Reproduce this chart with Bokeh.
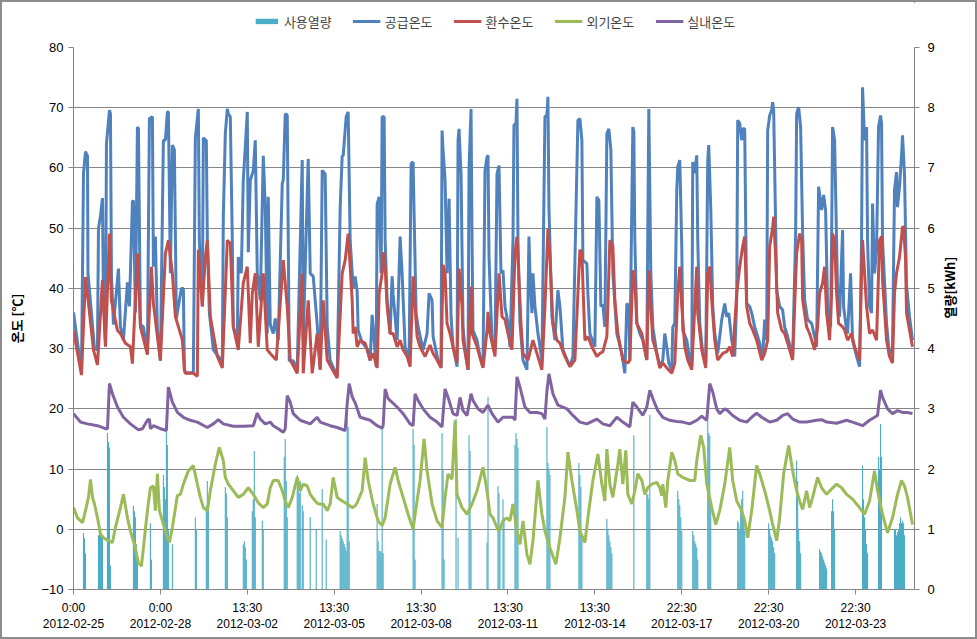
import math
from bokeh.plotting import figure
from bokeh.models import Range1d, LinearAxis, FixedTicker, Legend, LegendItem
from bokeh.layouts import column
from bokeh.embed import file_html
from bokeh.resources import INLINE

# x = sample index (label every 87 samples)
tick_idx = [0, 87, 174, 261, 348, 435, 522, 609, 696, 783]
tick_labels = ["0:00\n2012-02-25", "0:00\n2012-02-28", "13:30\n2012-03-02", "13:30\n2012-03-05",
               "13:30\n2012-03-08", "13:30\n2012-03-11", "13:30\n2012-03-14", "22:30\n2012-03-17",
               "22:30\n2012-03-20", "22:30\n2012-03-23"]

series_names = ["사용열량", "공급온도", "환수온도", "외기온도", "실내온도"]

# 공급온도 (supply temperature)
supply_idx = [0, 8, 10, 12, 14, 14.5, 16, 21, 24, 25, 27, 29, 30, 32, 33, 36, 37, 38, 40, 45, 47, 50, 54, 56, 59, 60, 62, 64, 65, 67, 70, 74, 76, 79, 80, 82, 84, 87, 90, 92, 94, 95, 97, 99, 101, 103, 108, 110, 111, 112, 120, 122, 125, 126, 129, 130, 133, 134, 136, 140, 145, 149, 150, 152, 154, 155, 157, 159, 160, 164, 165, 168, 170, 172, 174, 175, 177, 179, 180, 182, 184, 187, 190, 192, 194, 195, 197, 200, 202, 205, 209, 210, 212, 214, 216, 220, 224, 229, 230, 235, 237, 240, 244, 247, 249, 252, 254, 257, 264, 267, 269, 270, 273, 275, 277, 280,
              282, 284, 285, 289, 294, 297, 299, 300, 303, 304, 306, 308, 309, 311, 312, 314, 317, 319, 320, 324, 327, 329, 332, 336, 338, 340, 341, 343, 345, 350, 354, 356, 359, 360, 365, 368, 369, 370, 372, 374, 376, 378, 380, 384, 385, 386, 388, 390, 392, 395, 396, 398, 399, 400, 404, 407, 410, 412, 414, 415, 416, 419, 422, 424, 426, 428, 430, 432, 435, 437, 440, 441, 443, 444, 445, 447, 450, 454, 456, 457, 459, 460, 462, 465, 469, 472, 474, 475, 476, 479, 482, 485, 487, 490, 497, 500, 505, 507, 509, 510, 514, 515, 517, 522, 524, 526, 528, 530, 532, 534, 536, 538, 540, 544, 549, 552, 554, 556, 557, 560,
              561, 562, 564, 567, 570, 574, 575, 576, 578, 580, 584, 587, 590, 592, 594, 596, 599, 600, 602, 604, 605, 607, 609, 610, 614, 617, 619, 620, 622, 624, 625, 627, 630, 633, 635, 636, 638, 640, 642, 645, 649, 652, 654, 656, 659, 662, 664, 665, 667, 669, 670, 672, 673, 674, 677, 679, 682, 687, 690, 692, 694, 695, 697, 699, 700, 701, 703, 704, 707, 710, 712, 715, 720, 723, 724, 726, 728, 730, 732, 735, 739, 742, 744, 746, 749, 751, 753, 755, 758, 759, 760, 762, 764, 765, 767, 770, 771, 774, 775, 778, 780, 784, 787, 789, 790, 792, 794, 795, 797, 799, 800, 802, 804, 806, 808, 809, 810, 814, 817, 820, 822, 824, 825, 827, 829, 830, 832, 834, 837, 840]
supply_temp = [36, 26, 59, 62.7, 62, 42.5, 39.7, 30, 29.8, 50, 52, 55, 38, 31, 64, 69.6, 69, 42, 34, 43.3, 33.6, 31.4, 41, 37, 54.4, 54.6, 36, 66.8, 66.5, 34, 33.6, 29.2, 68.2, 68.5, 43.6, 48.6, 33, 28, 64.6, 64.6, 69.3, 69.3, 42.5, 63.8, 63, 35, 40, 40, 26.5, 26, 26, 65, 69.8, 48, 37, 65, 64.5, 48, 36, 29.8, 28.7, 28, 52, 65.7, 69.8, 69, 68.5, 48, 33.6, 31.4, 45.2, 42.5, 58, 63.5, 69.3, 46, 58, 59, 59.6, 64.6, 42.5, 38, 62, 53.5, 32.5, 55.2, 34, 32.5, 35, 31.4, 57.4, 58, 69, 68.8, 28, 28, 26.5, 61.3, 31.4, 61.5, 42.5, 42, 34, 26.5, 59.6, 59, 33.6, 28, 25.4, 53.5, 62, 62, 68.5, 69.3, 48, 40,
               42, 39.5, 33, 31, 30, 28, 35.6, 33.6, 27, 54, 55.2, 42.5, 68.5, 68.5, 48, 38, 32.5, 42, 39, 31.4, 48.6, 42.5, 30.3, 28, 60.7, 61, 52.4, 35.9, 33.6, 29.8, 32.5, 39.2, 38, 32, 28, 27, 66.2, 63, 58, 42.5, 54.9, 35.3, 30.3, 27, 64.6, 66.5, 59, 33.6, 29.8, 26.5, 60, 69.8, 48, 33, 31.4, 28.7, 27, 59.6, 61.8, 62.1, 45.2, 31.4, 29.8, 59, 60.4, 42.5, 43, 37, 34.2, 30.3, 48, 67.1, 67.4, 71.5, 48, 34.2, 28.1, 26.5, 48.6, 42.5, 35.9, 42.5, 37, 32.5, 28.1, 68.5, 68.8, 71.8, 53.5, 35.3, 31.4, 39.7, 37, 29.8, 27, 28.7, 67.9, 68.2, 64.6, 44.7, 44.1, 39.2, 32.5, 30.3, 55.2, 54.6, 37, 37.3, 33.6, 65.7, 66.5, 63, 42.5, 32.5, 29.2, 25.9, 37.5, 37, 28, 66.8,
               66, 48, 34.2, 32.5, 31.4, 28.1, 50.2, 69.8, 42.5, 33.6, 29.2, 27, 28.1, 32.5, 30.3, 27.6, 26.5, 33.6, 34.2, 56.4, 60.2, 61.3, 46.9, 33, 31.4, 28.1, 27, 61, 59.1, 62.1, 48, 34.2, 29.2, 27.6, 61.3, 63.8, 53.5, 37, 32.5, 29.2, 34.8, 37.5, 35.3, 35.9, 31.4, 28.7, 38.1, 67.9, 67.4, 64.6, 66.5, 66.5, 50.8, 37.5, 37, 35.9, 33.6, 30.9, 28.7, 34.8, 31.4, 66.2, 68.7, 69.6, 70.9, 69.6, 50.2, 39.7, 37, 36.4, 33.6, 32, 28.7, 49.1, 69, 70.1, 66.8, 49.1, 38.1, 34.8, 34.2, 32, 30.3, 56.9, 53, 55.5, 53, 37, 33.6, 48, 66.8, 64.6, 48, 39.2, 35.3, 49.7, 37, 33.1, 32.5, 42.5, 31.4, 28.7, 27, 48, 73.4, 64.6, 66.8, 48, 37, 35.9, 54.1, 42.5, 46.4, 66.8, 68.7, 67.4, 48, 34.2, 28.7, 30.3, 56.4, 59.3, 53.5, 56.9, 62, 65.4, 58.9, 40.6, 35.3, 31.4]

# 환수온도 (return temperature)
return_idx = [0, 8, 12, 15, 20, 24, 29, 32, 36, 38, 44, 47, 52, 57, 59, 64, 67, 74, 78, 80, 84, 87, 92, 95, 99, 102, 109, 111, 112, 120, 124, 125, 129, 132, 134, 137, 144, 149, 154, 157, 160, 165, 170, 174, 177, 179, 182, 185, 190, 194, 197, 203, 210, 214, 217, 224, 229, 230, 235, 239, 244, 247, 250, 254, 264, 269, 272, 275, 279, 280,
              282, 284, 287, 292, 297, 300, 304, 306, 309, 310, 312, 314, 317, 320, 324, 327, 330, 334, 337, 340, 342, 344, 347, 352, 357, 360, 364, 368, 370, 372, 374, 377, 380, 384, 386, 389, 390, 395, 398, 399, 404, 409, 410, 414, 415, 417, 422, 426, 429, 432, 435, 439, 442, 444, 445, 448, 450, 455, 460, 464, 469, 472, 475, 477, 480, 484, 487, 492, 497, 502, 507, 509, 512, 515, 519, 524, 527, 530, 534, 537, 540, 542, 545, 550, 555,
              557, 560, 562, 564, 569, 572, 574, 576, 578, 580, 584, 587, 590, 594, 599, 602, 605, 607, 609, 612, 615, 619, 622, 624, 625, 629, 633, 635, 637, 639, 642, 645, 650, 654, 657, 660, 664, 667, 670, 672, 674, 677, 680, 684, 689, 692, 695, 697, 700, 701, 703, 705, 709, 712, 715, 720, 724, 727, 729, 730, 734, 737, 742, 745, 747, 750, 752, 754, 757, 759, 760, 762, 764, 766, 770, 772, 775, 779, 782, 787, 789, 790, 792, 794, 797, 800, 804, 807, 809, 810, 814, 817, 820, 822, 824, 827, 830, 831, 833, 834, 837, 840]
return_temp = [33, 25.6, 41.9, 37.5, 29.8, 27.3, 41.4, 30.3, 49.1, 38, 33, 32.5, 30.9, 30.3, 27.5, 45.8, 33.6, 29, 43.6, 37.5, 32, 28, 45.8, 48, 42.5, 35.3, 31.4, 26.5, 25.9, 25.9, 25.4, 46.4, 37, 45.2, 48, 35.3, 28.7, 26.8, 48, 47.5, 33.6, 29.8, 40.9, 43.6, 30.9, 39.2, 42.5, 30.3, 42.5, 29.8, 29.2, 28.1, 44.7, 37, 28.1, 25.9, 42.5, 25.9, 38, 25.9, 32.5, 26.5, 38, 28.1, 25.1, 42.5, 44.7, 49.1, 38, 32.5,
               33.6, 30.3, 31.4, 30.9, 28.1, 29.2, 26.8, 39.2, 42.5, 46, 43.6, 37, 32.5, 32.5, 30.3, 31.4, 29.8, 28.7, 27, 42, 37, 32, 30.3, 28.7, 30.6, 29.2, 28.1, 26.8, 43.9, 42.5, 34.2, 32.5, 30.3, 27.6, 43.3, 37, 31.4, 26.5, 40.3, 32.5, 30.3, 27.3, 26.8, 33, 36.1, 32.5, 28.7, 42.5, 35.3, 34.8, 32.5, 29.8, 45.8, 48.6, 45.2, 34.2, 29.2, 28.1, 31.4, 29.2, 26.5, 37, 49.9, 45.2, 34.2, 31.4, 30.9, 28.7, 27, 28.1, 46.4, 45.8, 31.4, 32, 30.3, 28.7, 29.2, 29.5, 32, 48, 47, 38, 32.5, 28.1, 27.6,
               28.1, 43, 41.4, 34.2, 32.5, 29.8, 28.1, 43, 37, 31.4, 29.2, 26.8, 27.6, 26.8, 25.9, 27.6, 39.2, 43.6, 37, 30.3, 28.1, 26.5, 37, 43.6, 35.9, 29.8, 26.8, 42.5, 43.6, 38.1, 31.4, 28.1, 29.2, 29.5, 30.3, 28.7, 39.2, 43.6, 47, 48.6, 37, 34.2, 33.1, 31.4, 28.1, 29.2, 31.4, 46.9, 50.2, 51.9, 45.2, 35.9, 33.1, 32.5, 30.9, 28.1, 45.8, 49.1, 48, 38.1, 33.6, 32.5, 29.8, 33.6, 39.2, 40.9, 43.6, 35.9, 31.4, 39.2, 49.1, 48, 39.2, 34.2, 33.6, 33.1, 31.4, 32.5, 30.3, 28.1, 42.5, 48, 42.5, 37, 32.5, 33.1, 31.4, 48, 48.6, 41.4, 31.4, 28.7, 27.6, 39.2, 42.5, 45.2, 50.2, 50.2, 45.2, 35.9, 33.1, 30.3]

# 외기온도 (outdoor temperature)
outdoor_idx = [0, 4, 9, 12, 15, 17, 19, 21, 24, 27, 30, 35, 39, 42, 47, 50, 54, 57, 62, 65, 68, 70, 74, 77, 80, 82, 84, 86, 89, 94, 96, 99, 104, 107, 110, 115, 120, 124, 127, 130, 134, 137, 142, 146, 150, 152, 155, 160, 165, 170, 175, 180, 185, 190, 194, 197, 200, 205, 209, 212, 215, 219, 224, 227, 230, 234, 237, 242, 245, 250, 254, 257, 260, 264, 269, 274, 279, 282,
               284, 289, 292, 295, 300, 305, 309, 312, 317, 322, 325, 330, 335, 340, 342, 347, 351, 354, 359, 364, 369, 372, 375, 379, 382, 384, 389, 394, 399, 404, 410, 414, 417, 420, 424, 426, 430, 434, 437, 440, 444, 447, 450, 454, 457, 460, 465, 469, 472, 477, 483, 487, 492, 495, 499, 504, 507, 512, 515, 520, 525, 529, 532, 534, 537, 540, 545, 547, 550, 553, 555, 559, 562,
               565, 569, 572, 575, 579, 584, 587, 589, 590, 593, 595, 599, 602, 605, 610, 617, 622, 624, 628, 631, 634, 639, 643, 647, 652, 657, 660, 664, 669, 672, 675, 679, 684, 687, 692, 697, 700, 704, 707, 711, 716, 720, 724, 727, 730, 734, 737, 740, 745, 749, 754, 759, 764, 769, 774, 780, 787, 792, 797, 802, 805, 810, 815, 820, 825, 829, 832, 835, 840]
outdoor_temp = [3.6, 1.9, 1.1, 3.1, 5.3, 8.3, 5.3, 4.2, 1.9, -0.8, -1.4, -1.9, -2.2, 0.3, 3.6, 5.8, 1.9, -0.3, -3.1, -5.6, -6.1, -3.1, 3.1, 6.9, 7.2, 3.1, 9.2, 3.1, 1.4, -1.4, -2.2, 0.3, 5.6, 5.8, 7.5, 9.7, 10.6, 7.5, 5.3, 3.6, 3.1, 6.4, 10.8, 13.6, 11.4, 8.6, 7.5, 6.4, 5.3, 5.8, 6.9, 5.8, 4.4, 3.6, 4.2, 6.9, 8.1, 8.1, 6.4, 4.7, 3.6, 5.3, 8.6, 6.4, 7.5, 7.2, 5.8, 4.7, 4.2, 4.2, 3.1, 4.2, 8.6, 5.3, 4.7, 4.2, 3.6, 3.9,
                4.4, 6.4, 11.9, 8.1, 4.2, 1.4, 0.6, 1.9, 7.5, 10.3, 8.1, 5.3, 2.5, 0, 2.5, 8.1, 15, 9.7, 4.2, 1.4, 0.3, 5.3, 9.2, 8.3, 18.1, 5.8, 3.6, 2.5, 4.2, 6.4, 10.3, 6.4, 2.5, 1.9, 0.3, -0.3, 1.4, 1.9, 1.4, 4.2, -0.3, -2.5, 1.4, -4.2, -5.8, -1.9, 8.1, 2.5, -0.3, -3.1, -5.8, -1.4, 5.3, 12.8, 8.1, 3.1, -0.3, -2.2, 1.9, 8.1, 12.5, 7.5, 4.7, 13.3, 7.5, 5.3, 10.8, 13.3, 7.5, 13.1, 5.8, 4.2, 6.4,
                9.2, 8.1, 5.8, 6.9, 7.5, 7.8, 6.9, 5.6, 7.5, 3.6, 8.1, 12.8, 11.4, 9.2, 8.6, 8.1, 8.1, 11.4, 15.6, 13.6, 7.5, 3.6, 0.8, 3.1, 7.5, 13.6, 8.1, 4.7, 3.1, 1.4, -1.4, 3.1, 10.6, 9.2, 6.4, 3.1, 0.8, -1.9, 1.9, 9.2, 13.9, 9.7, 6.4, 4.7, 3.3, 6.4, 3.6, 5.3, 8.6, 6.9, 5.8, 6.7, 7.5, 6.9, 5.8, 5, 3.6, 2.5, 4.7, 9.7, 6.4, 2.5, -0.6, 1.9, 5.8, 8.1, 7.2, 5.3, 0.8]

# 실내온도 (indoor temperature)
indoor_idx = [0, 7, 14, 24, 32, 34, 36, 39, 44, 50, 57, 65, 69, 74, 76, 77, 80, 87, 93, 95, 99, 104, 110, 117, 124, 134, 140, 145, 150, 160, 170, 180, 184, 187, 192, 197, 200, 205, 210, 212, 214, 217, 220, 227, 237, 244, 247, 257, 264, 272, 274, 276, 279, 282,
              287, 297, 304, 309, 310, 312, 315, 324, 330, 337, 340, 342, 345, 350, 357, 364, 369, 372, 375, 380, 384, 387, 390, 394, 398, 400, 405, 410, 415, 419, 425, 430, 435, 440, 442, 444, 447, 452, 457, 464, 469, 472, 474, 476, 480, 485, 494, 500, 507, 514, 524, 530, 537, 544, 550,
              557, 560, 564, 570, 574, 577, 580, 585, 590, 597, 604, 610, 617, 624, 629, 634, 637, 640, 644, 647, 652, 655, 660, 667, 674, 679, 684, 689, 697, 704, 710, 715, 720, 727, 734, 744, 749, 754, 764, 774, 780, 790, 797, 805, 808, 810, 815, 820, 825, 830, 835, 840]
indoor_temp = [19.2, 17.8, 17.5, 17.2, 16.7, 16.7, 24.2, 22.5, 20.3, 18.6, 17.5, 16.5, 16.7, 18.1, 18.3, 16.7, 17.2, 16.7, 16.4, 23.6, 21.1, 19.4, 18.6, 18.1, 17.8, 16.9, 17.5, 18.2, 17.5, 17.1, 17.1, 17.2, 19.3, 18.3, 17.5, 17.8, 17.2, 16.7, 16.1, 16.7, 22.2, 21.1, 19.2, 18.1, 17.5, 18.6, 17.8, 17.2, 16.9, 16.4, 20.8, 24.2, 22, 21,
               18.6, 18.1, 17.2, 16.8, 17.2, 23.3, 21.7, 20.3, 19.2, 17.5, 17.2, 22.5, 21.4, 20, 18.6, 17.8, 17, 23.3, 21.9, 19.2, 18.9, 21.9, 19.7, 18.9, 22.5, 21.4, 20, 19.4, 20.6, 19.2, 17.8, 18.6, 18.6, 18.6, 18.1, 25.3, 23.6, 20.3, 19.4, 19.4, 19.2, 18.3, 23, 25.8, 22.5, 20.6, 20, 18.9, 17.8, 17.5, 18.3, 17.5, 17.2, 18.6, 17.8,
               17, 21.1, 20.3, 18.9, 20.3, 23.1, 21.7, 19.7, 18.6, 18.1, 17.9, 17.8, 17.5, 18.1, 18.8, 18.1, 24.2, 22.8, 20, 19.2, 20, 19.7, 18.9, 18.1, 17.8, 18.6, 19.3, 18.6, 17.8, 18.1, 18.9, 19.2, 18.3, 17.8, 17.8, 18.1, 18.2, 17.8, 17.6, 18.1, 17.8, 17.2, 18.1, 18.9, 23.1, 21.9, 20, 19.2, 19.7, 19.4, 19.4, 19.2]

# 사용열량 (heat used, kWh)
heat_idx = [10, 11, 12, 25, 26, 27, 28, 29, 34, 35, 36, 37, 60, 61, 62, 63, 64, 77, 78, 90, 91, 92, 93, 94, 95, 99, 122, 123, 133, 134, 135, 152, 153, 154, 170, 171, 172, 173, 179, 180, 181, 182, 189, 190,
            211, 212, 213, 214, 224, 225, 226, 227, 229, 230, 237, 243, 249, 253, 267, 268, 269, 270, 271, 272, 273, 274, 275, 276,
            304, 305, 306, 307, 308, 309, 310, 340, 341, 342, 369, 370, 371, 383, 385, 396, 397, 398, 414, 415, 425, 426, 427, 430, 431,
            442, 443, 444, 445, 474, 475, 476, 477, 506, 507, 508, 509, 534, 535, 536, 537, 538, 539, 561, 574, 575, 576, 577,
            605, 606, 607, 608, 609, 620, 621, 622, 623, 624, 625, 635, 636, 637, 638, 665, 666, 667, 668, 669, 670, 671, 672,
            696, 697, 698, 699, 700, 701, 702, 724, 725, 726, 727, 728, 747, 748, 749, 750, 751, 752, 753, 754, 759, 760, 761, 762,
            790, 791, 792, 793, 794, 795, 806, 807, 808, 809, 822, 823, 824, 825, 826, 827, 828, 829, 830, 831, 832]
heat_kwh = [0.94, 0.85, 0.6, 0.9, 0.92, 0.9, 0.88, 0.85, 2.6, 2.45, 2.36, 0.4, 1.39, 1.3, 1.2, 0.75, 0.5, 1.1, 0.5, 1.9, 1.7, 1.5, 2.64, 2.4, 1.0, 0.75, 1.2, 1.0, 1.39, 1.8, 1.5, 1.7, 1.6, 1.2, 0.75, 0.8, 0.7, 0.5, 1.3, 1.5, 2.3, 1.2, 1.14, 1.0,
            2.2, 2.5, 1.8, 1.2, 1.9, 1.7, 1.6, 1.8, 1.4, 1.3, 1.2, 1.0, 1.67, 0.83, 0.97, 0.9, 0.85, 0.8, 0.75, 0.7, 0.64, 2.86, 2.7, 0.8,
            1.42, 0.8, 0.64, 0.64, 0.62, 2.7, 0.6, 2.67, 2.4, 0.5, 2.6, 2.0, 0.5, 2.83, 0.86, 2.56, 2.3, 1.0, 0.78, 3.2, 1.72, 1.6, 1.0, 1.5, 1.2,
            2.4, 2.6, 2.5, 2.36, 2.7, 2.1, 2.0, 1.9, 2.1, 1.9, 1.7, 0.9, 1.17, 1.0, 0.9, 0.8, 0.7, 0.6, 2.56, 1.58, 1.58, 1.5, 2.9,
            1.64, 1.5, 1.4, 1.2, 0.97, 0.97, 0.9, 0.8, 0.75, 0.7, 0.5, 2.8, 2.6, 2.55, 1.5, 1.14, 1.1, 1.0, 1.3, 1.5, 1.64, 1.2, 0.97,
            1.1, 1.0, 0.9, 0.85, 0.8, 0.7, 0.6, 2.14, 1.8, 1.0, 0.8, 0.6, 0.67, 0.63, 0.6, 0.55, 0.5, 0.45, 0.4, 0.35, 1.3, 1.5, 1.3, 1.0,
            2.06, 1.5, 1.2, 1.0, 0.75, 0.6, 2.2, 2.0, 2.75, 2.2, 1.0, 1.0, 0.9, 0.95, 1.0, 1.1, 1.2, 1.1, 1.14, 1.1, 0.9]

temp_ticks = [-10, 0, 10, 20, 30, 40, 50, 60, 70, 80]
kwh_ticks = [0, 1, 2, 3, 4, 5, 6, 7, 8, 9]

GRID = "#868686"
TICK_FONT = "Liberation Sans"
KR_FONT = "Noto Sans CJK KR"
C_HEAT, C_SUP, C_RET, C_OUT, C_IN = "#4BACC6", "#4F81BD", "#C0504D", "#9BBB59", "#8064A2"

def add_series(fig):
    r_heat = fig.vbar(x=heat_idx, top=heat_kwh, bottom=0, width=1.1, y_range_name="kwh",
                      fill_color=C_HEAT, line_color=None)
    r_sup = fig.line(supply_idx, supply_temp, line_width=3, color=C_SUP)
    r_ret = fig.line(return_idx, return_temp, line_width=3, color=C_RET)
    r_out = fig.line(outdoor_idx, outdoor_temp, line_width=3, color=C_OUT)
    r_in = fig.line(indoor_idx, indoor_temp, line_width=3, color=C_IN)
    return [r_heat, r_sup, r_ret, r_out, r_in]

# page 977x639: a 2px frame round a 973x635 chart area
PAD = 2
W = 977 - 2 * PAD
LEG_H = 37
P_H = 639 - 2 * PAD - LEG_H
p = figure(width=W, height=P_H, output_backend="svg", toolbar_location=None,
           x_range=Range1d(0, 842), y_range=Range1d(-10, 80),
           min_border_left=73 - PAD, min_border_right=(PAD + W) - 914,
           min_border_top=47 - PAD - LEG_H, min_border_bottom=(PAD + LEG_H + P_H) - 589)
p.extra_y_ranges = {"kwh": Range1d(0, 9)}
p.outline_line_color = None
p.background_fill_color = "white"
p.border_fill_color = "white"

p.xgrid.visible = False
p.ygrid.ticker = FixedTicker(ticks=temp_ticks)
p.ygrid.grid_line_color = GRID
p.ygrid.grid_line_width = 1

def style_axis(ax):
    ax.axis_line_color = GRID
    ax.major_tick_line_color = GRID
    ax.major_tick_out = 5
    ax.major_tick_in = 0
    ax.minor_tick_line_color = None
    ax.major_label_text_font = TICK_FONT
    ax.major_label_text_font_size = "13px"
    ax.major_label_text_color = "black"
    ax.axis_label_text_font = KR_FONT
    ax.axis_label_text_font_size = "13px"
    ax.axis_label_text_font_style = "bold"
    ax.axis_label_text_color = "black"

yl = p.yaxis[0]
yl.ticker = FixedTicker(ticks=temp_ticks)
yl.axis_label = "온도 [℃]"
style_axis(yl)
yl.major_label_standoff = 5
yl.axis_label_standoff = 12

yr = LinearAxis(y_range_name="kwh", ticker=FixedTicker(ticks=kwh_ticks), axis_label="열량[kWh]")
style_axis(yr)
yr.major_label_standoff = 8
yr.axis_label_standoff = 12
yr.axis_label_orientation = math.pi / 2
p.add_layout(yr, "right")

xa = p.xaxis[0]
xa.ticker = FixedTicker(ticks=tick_idx)
xa.major_label_overrides = {t: l for t, l in zip(tick_idx, tick_labels)}
style_axis(xa)
xa.major_label_text_font_size = "12px"
xa.major_label_standoff = 6

add_series(p)

# legend strip above the chart: same series, ranges set so that no data falls inside its frame
lg = figure(width=W, height=LEG_H, output_backend="svg", toolbar_location=None,
            x_range=Range1d(-2000, -1999), y_range=Range1d(-2000, -1999),
            min_border_left=0, min_border_right=0, min_border_top=0, min_border_bottom=0)
lg.extra_y_ranges = {"kwh": Range1d(-2000, -1999)}
lg.axis.visible = False
lg.grid.visible = False
lg.outline_line_color = None
lg.background_fill_color = "white"
lg.border_fill_color = "white"
leg_renderers = add_series(lg)
legend = Legend(items=[LegendItem(label=n, renderers=[r]) for n, r in zip(series_names, leg_renderers)],
                orientation="horizontal", location="center",
                glyph_width=28, glyph_height=7, label_standoff=4, spacing=21,
                padding=0, margin=0, border_line_color=None, background_fill_alpha=0,
                label_text_font=KR_FONT, label_text_font_size="13px", label_height=16)
lg.add_layout(legend, "center")

root = column(lg, p, spacing=0,
              styles={"margin": "%dpx" % PAD, "outline": "%dpx solid #8c8c8c" % PAD})
open("out.html", "w").write(file_html(root, INLINE))
